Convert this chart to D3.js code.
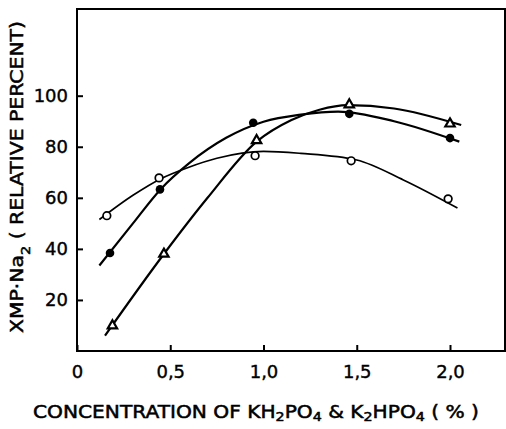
<!DOCTYPE html>
<meta charset="utf-8">
<style>
body { margin: 0; background: white; }
text { font-family: "DejaVu Sans", sans-serif; fill: black; }
</style>
<body>
<script src="https://cdn.jsdelivr.net/npm/d3@7"></script>
<script>
// measured points
var openX = [0.16, 0.44, 0.955, 1.47, 1.99]
var openY = [53, 67.8, 76.5, 74.5, 59.6]
var filledX = [0.177, 0.445, 0.945, 1.46, 2.0]
var filledY = [38.4, 63.3, 89.4, 92.9, 83.4]
var triX = [0.19, 0.466, 0.963, 1.46, 2.0]
var triY = [9.9, 38, 82.5, 96.5, 89]

// hand drawn curves
var openCurveX = [0.12, 0.3, 0.45, 0.6, 0.75, 1.0, 1.2, 1.5, 1.75, 2.04]
var openCurveY = [51.5, 61, 67.5, 72, 75.5, 78.2, 77.4, 74.8, 67, 56]
var filledCurveX = [0.12, 0.3, 0.45, 0.6, 0.8, 1.0, 1.2, 1.4, 1.7, 2.05]
var filledCurveY = [33.5, 50, 63.5, 73.5, 83.5, 89.8, 92.6, 93.8, 90, 82]
var triCurveX = [0.15, 0.466, 0.7, 0.963, 1.15, 1.3, 1.45, 1.7, 2.06]
var triCurveY = [6, 38, 60, 82, 90.5, 94.5, 96.3, 95, 88.5]

var xTicks = [0, 0.5, 1.0, 1.5, 2.0]
var xTickLabels = ['0', '0,5', '1,0', '1,5', '2,0']
var yTicks = [20, 40, 60, 80, 100]

var W = 506, H = 429
var margin = { top: 9, right: 1, bottom: 78, left: 77 }
var width = W - margin.left - margin.right
var height = H - margin.top - margin.bottom

var svg = d3.select('body').append('svg')
    .attr('width', W)
    .attr('height', H)

var g = svg.append('g')
    .attr('transform', 'translate(' + margin.left + ',' + margin.top + ')')

var x = d3.scaleLinear().domain([0, width / 186.5]).range([0, width])
var y = d3.scaleLinear().domain([0, height / 2.553]).range([height, 0])

// frame
g.append('rect')
    .attr('width', width)
    .attr('height', height)
    .attr('fill', 'none')
    .attr('stroke', 'black')
    .attr('stroke-width', 2)

function styleAxis(a) {
    a.select('.domain').remove()
    a.selectAll('line').attr('stroke-width', 2)
    a.selectAll('text')
        .style('font-size', '18px')
        .style('font-family', '"DejaVu Sans", sans-serif')
        .attr('stroke', 'black')
        .attr('stroke-width', 0.4)
}

g.append('g')
    .attr('transform', 'translate(0,' + height + ')')
    .call(d3.axisBottom(x)
        .tickValues(xTicks)
        .tickSize(-6)
        .tickPadding(14)
        .tickFormat(function (d, i) { return xTickLabels[i] }))
    .call(styleAxis)

g.append('g')
    .call(d3.axisLeft(y)
        .tickValues(yTicks)
        .tickSize(-6)
        .tickPadding(9))
    .call(styleAxis)

// curves
var line = d3.line()
    .x(function (d) { return x(d[0]) })
    .y(function (d) { return y(d[1]) })
    .curve(d3.curveMonotoneX)

function zip(a, b) { return a.map(function (v, i) { return [v, b[i]] }) }

;[[openCurveX, openCurveY, 1.7], [filledCurveX, filledCurveY, 2.2], [triCurveX, triCurveY, 2.2]].forEach(function (c) {
    g.append('path')
        .datum(zip(c[0], c[1]))
        .attr('d', line)
        .attr('fill', 'none')
        .attr('stroke', 'black')
        .attr('stroke-width', c[2])
})

// markers
g.selectAll('.open').data(zip(openX, openY)).enter().append('circle')
    .attr('cx', function (d) { return x(d[0]) })
    .attr('cy', function (d) { return y(d[1]) })
    .attr('r', 3.8)
    .attr('fill', 'white')
    .attr('stroke', 'black')
    .attr('stroke-width', 1.7)

g.selectAll('.filled').data(zip(filledX, filledY)).enter().append('circle')
    .attr('cx', function (d) { return x(d[0]) })
    .attr('cy', function (d) { return y(d[1]) })
    .attr('r', 4.3)
    .attr('fill', 'black')

var tri = d3.symbol().type(d3.symbolTriangle).size(38)
g.selectAll('.tri').data(zip(triX, triY)).enter().append('path')
    .attr('transform', function (d) { return 'translate(' + x(d[0]) + ',' + y(d[1]) + ')' })
    .attr('d', tri)
    .attr('fill', 'white')
    .attr('stroke', 'black')
    .attr('stroke-width', 2.2)

// axis titles
var yt = svg.append('text')
    .attr('transform', 'translate(23,177) rotate(-90)')
    .attr('text-anchor', 'middle')
    .attr('textLength', 312)
    .attr('lengthAdjust', 'spacingAndGlyphs')
    .attr('stroke', 'black')
    .attr('stroke-width', 0.5)
    .style('font-size', '17px')
yt.append('tspan').text('XMP·Na')
yt.append('tspan').attr('baseline-shift', 'sub').style('font-size', '12px').text('2')
yt.append('tspan').text(' ( RELATIVE PERCENT)')

var xt = svg.append('text')
    .attr('x', 256)
    .attr('y', 418)
    .attr('text-anchor', 'middle')
    .attr('textLength', 446)
    .attr('lengthAdjust', 'spacingAndGlyphs')
    .attr('stroke', 'black')
    .attr('stroke-width', 0.5)
    .style('font-size', '17px')
xt.append('tspan').text('CONCENTRATION  OF KH')
xt.append('tspan').attr('baseline-shift', '-3').style('font-size', '12px').text('2')
xt.append('tspan').text('PO')
xt.append('tspan').attr('baseline-shift', '-3').style('font-size', '12px').text('4')
xt.append('tspan').text(' & K')
xt.append('tspan').attr('baseline-shift', '-3').style('font-size', '12px').text('2')
xt.append('tspan').text('HPO')
xt.append('tspan').attr('baseline-shift', '-3').style('font-size', '12px').text('4')
xt.append('tspan').text(' ( % )')
</script>
</body>
